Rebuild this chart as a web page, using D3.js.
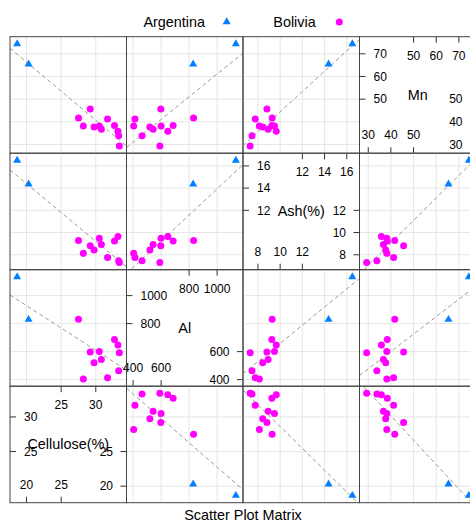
<!DOCTYPE html>
<html><head><meta charset="utf-8">
<script src="https://cdn.jsdelivr.net/npm/d3@7"></script>
<style>
html,body{margin:0;padding:0;background:#fff;}
svg{display:block;font-family:"Liberation Sans",Arial,Helvetica,sans-serif;}
</style></head>
<body><svg id="c" width="470" height="523"></svg>
<script>
// ---- data ----
const groups = ["Argentina","Bolivia"];
const groupColors = ["#0080ff","#ff00ff"];
const varNames = ["Cellulose(%)","Al","Ash(%)","Mn"];
const country = ["Argentina","Argentina","Bolivia","Bolivia","Bolivia","Bolivia","Bolivia","Bolivia","Bolivia","Bolivia","Bolivia","Bolivia","Bolivia"];
const cellulose = [18.65,20.3,27.5,28.2,29.2,29.75,30.5,30.8,31.7,32.7,33.2,33.3,33.4];
const al        = [1134,829,832,404,598,520,600,543,413,686,648,464,591];
const ash       = [16.5,14.36,9.28,8.13,8.81,8.43,9.49,8.92,7.76,9.25,9.65,7.47,7.3];
const mn        = [74.4,65.4,41.7,38.2,45.6,37.7,38.2,36.7,41.2,38.4,35.8,33.8,29.3];
const celluloseTicks = [20,25,30];
const alTicks = [400,600,800,1000];
const ashTicks = [8,10,12,14,16];
const mnTicks = [30,40,50,60,70];
const title = "Scatter Plot Matrix";

const cols = [cellulose, al, ash, mn];
const ticks = [celluloseTicks, alTicks, ashTicks, mnTicks];

// ---- layout ----
const svg = d3.select("#c");
const X0 = 10, Y0 = 36.7, P = 116.5, N = 4;
const font = "\"Liberation Sans\",Arial,Helvetica,sans-serif";

function dom(v){ const [a,b]=d3.extent(v); const p=(b-a)*0.07; return [a-p,b+p]; }
const doms = cols.map(dom);

const defs = svg.append("defs");

for (let r=0;r<N;r++){
  for (let c=0;c<N;c++){
    const yi = N-1-r, xi = c;
    const px = X0 + c*P, py = Y0 + r*P;
    const xs = d3.scaleLinear().domain(doms[xi]).range([px, px+P]);
    const ys = d3.scaleLinear().domain(doms[yi]).range([py+P, py]);
    const g = svg.append("g");
    if (xi === yi) {
      // diagonal panel
      const v = xi;
      const t = ticks[v];
      const n = t.length, nal = n/2 + 0.5;
      const lower = t.filter((d,i)=> (i+1) <= nal);
      const upper = t.filter((d,i)=> (i+1) >= nal);
      const tl = 6;
      const tcol = "#333";
      // bottom (lower)
      lower.forEach(d=>{
        g.append("line").attr("x1",xs(d)).attr("x2",xs(d)).attr("y1",py+P).attr("y2",py+P-tl).attr("stroke",tcol);
        g.append("text").attr("x",xs(d)).attr("y",py+P-14).attr("text-anchor","middle").attr("font-size",12).text(d);
      });
      // right (lower)
      lower.forEach(d=>{
        const yy = d3.scaleLinear().domain(doms[v]).range([py+P,py])(d);
        g.append("line").attr("x1",px+P).attr("x2",px+P-tl).attr("y1",yy).attr("y2",yy).attr("stroke",tcol);
        g.append("text").attr("x",px+P-13.5).attr("y",yy+4.3).attr("text-anchor","end").attr("font-size",12).text(d);
      });
      // top (upper)
      upper.forEach(d=>{
        g.append("line").attr("x1",xs(d)).attr("x2",xs(d)).attr("y1",py).attr("y2",py+tl).attr("stroke",tcol);
        g.append("text").attr("x",xs(d)).attr("y",py+23).attr("text-anchor","middle").attr("font-size",12).text(d);
      });
      // left (upper)
      upper.forEach(d=>{
        const yy = d3.scaleLinear().domain(doms[v]).range([py+P,py])(d);
        g.append("line").attr("x1",px).attr("x2",px+tl).attr("y1",yy).attr("y2",yy).attr("stroke",tcol);
        g.append("text").attr("x",px+14).attr("y",yy+4.3).attr("text-anchor","start").attr("font-size",12).text(d);
      });
      g.append("text").attr("x",px+P/2).attr("y",py+P/2+5).attr("text-anchor","middle")
        .attr("font-size",14.4).text(varNames[v]);
    } else {
      const cid = "clip"+r+"_"+c;
      defs.append("clipPath").attr("id",cid).append("rect").attr("x",px).attr("y",py).attr("width",P).attr("height",P);
      // grid
      ticks[xi].forEach(d=>{
        g.append("line").attr("x1",xs(d)).attr("x2",xs(d)).attr("y1",py).attr("y2",py+P)
          .attr("stroke","#e6e6e6").attr("stroke-width",1);
      });
      ticks[yi].forEach(d=>{
        g.append("line").attr("y1",ys(d)).attr("y2",ys(d)).attr("x1",px).attr("x2",px+P)
          .attr("stroke","#e6e6e6").attr("stroke-width",1);
      });
      // regression line (least squares over all points)
      const xv = cols[xi], yv = cols[yi];
      const mx = d3.mean(xv), my = d3.mean(yv);
      let sxy=0,sxx=0;
      xv.forEach((d,i)=>{ sxy+=(d-mx)*(yv[i]-my); sxx+=(d-mx)*(d-mx); });
      const b = sxy/sxx, a = my - b*mx;
      const [d0,d1] = doms[xi];
      g.append("line").attr("clip-path","url(#"+cid+")")
        .attr("x1",xs(d0)).attr("y1",ys(a+b*d0)).attr("x2",xs(d1)).attr("y2",ys(a+b*d1))
        .attr("stroke","#999").attr("stroke-width",1).attr("stroke-dasharray","4,3");
      // points
      xv.forEach((d,i)=>{
        const gi = groups.indexOf(country[i]);
        if (gi===0) {
          g.append("path").attr("d",d3.symbol().type(d3.symbolTriangle).size(28)())
            .attr("transform","translate("+xs(d)+","+ys(yv[i])+")").attr("fill",groupColors[0]);
        } else {
          g.append("circle").attr("cx",xs(d)).attr("cy",ys(yv[i])).attr("r",3.5).attr("fill",groupColors[1]);
        }
      });
    }
    g.append("rect").attr("x",px).attr("y",py).attr("width",P).attr("height",P)
      .attr("fill","none").attr("stroke","#444").attr("stroke-width",1);
  }
}

// legend
const lg = svg.append("g").attr("font-size",14.4);
lg.append("text").attr("x",205).attr("y",27).attr("text-anchor","end").text(groups[0]);
lg.append("path").attr("d",d3.symbol().type(d3.symbolTriangle).size(28)())
  .attr("transform","translate(226.7,22)").attr("fill",groupColors[0]);
lg.append("text").attr("x",273.3).attr("y",27).attr("text-anchor","start").text(groups[1]);
lg.append("circle").attr("cx",339.3).attr("cy",22).attr("r",3.5).attr("fill",groupColors[1]);

// title / xlab
svg.append("text").attr("x",X0+2*P).attr("y",520).attr("text-anchor","middle").attr("font-size",14.4).text(title);
</script></body></html>
